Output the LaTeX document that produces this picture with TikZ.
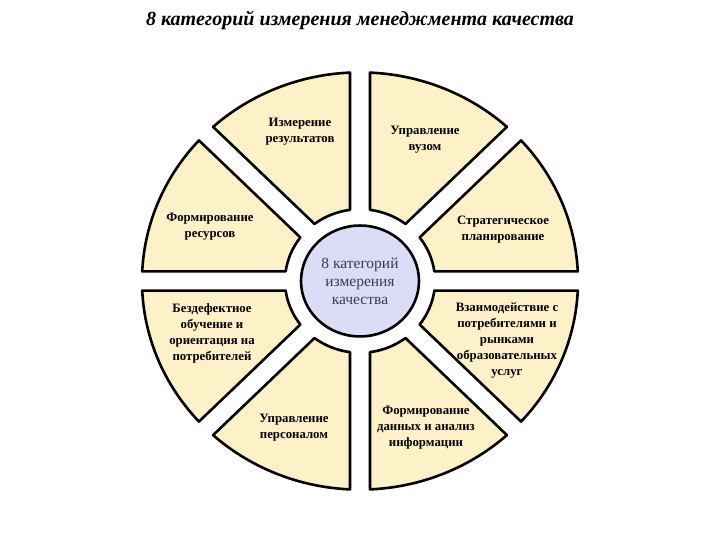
\documentclass[tikz,border=0pt]{standalone}
\usepackage{fontspec}
\setmainfont{Liberation Serif}
\definecolor{sect}{HTML}{FDF1C7}
\definecolor{mid}{HTML}{DCDCF6}
\definecolor{midtxt}{HTML}{3A3A50}
\begin{document}
\begin{tikzpicture}[x=1pt,y=1pt,
  seg/.style={fill=sect,draw=black,line width=2.6pt,line join=round},
  lbl/.style={align=center,font=\fontsize{12.8}{16}\selectfont\bfseries,inner sep=0pt}]
\useasboundingbox (0,0) rectangle (720,540);
\def\R{218}\def\ri{75}\def\dR{2.63}\def\di{7.66}
\begin{scope}[shift={(360,259)},yscale=0.957]
\foreach \k in {0,...,7}{
  \pgfmathsetmacro\aA{45*\k+\dR}\pgfmathsetmacro\aB{45*(\k+1)-\dR}
  \pgfmathsetmacro\bA{45*\k+\di}\pgfmathsetmacro\bB{45*(\k+1)-\di}
  \draw[seg] (\aA:\R) arc[start angle=\aA,end angle=\aB,radius=\R] -- (\bB:\ri)
     arc[start angle=\bB,end angle=\bA,radius=\ri] -- cycle;
}
\node[circle,draw=black,line width=2.6pt,fill=mid,minimum size=118pt,yscale=0.94] (c) at (0,0) {};
\end{scope}
\node[font=\fontsize{20}{24}\selectfont\bfseries\itshape] (t) at (360,520) {8 категорий измерения менеджмента качества};
\node[align=center,text=midtxt,font=\fontsize{15.5}{18}\selectfont] (ct) at (360,259) {8 категорий\\измерения\\качества};
\node[lbl] (n1) at (300,408) {Измерение\\результатов};
\node[lbl] (n2) at (425,400) {Управление\\вузом};
\node[lbl] (n3) at (210,313) {Формирование\\ресурсов};
\node[lbl] (n4) at (503,310) {Стратегическое\\планирование};
\node[lbl] (n5) at (212,207) {Бездефектное\\обучение и\\ориентация на\\потребителей};
\node[lbl] (n6) at (507,200) {Взаимодействие с\\потребителями и\\рынками\\образовательных\\услуг};
\node[lbl] (n7) at (294,112) {Управление\\персоналом};
\node[lbl] (n8) at (426,112) {Формирование\\данных и анализ\\информации};
\end{tikzpicture}
\end{document}
